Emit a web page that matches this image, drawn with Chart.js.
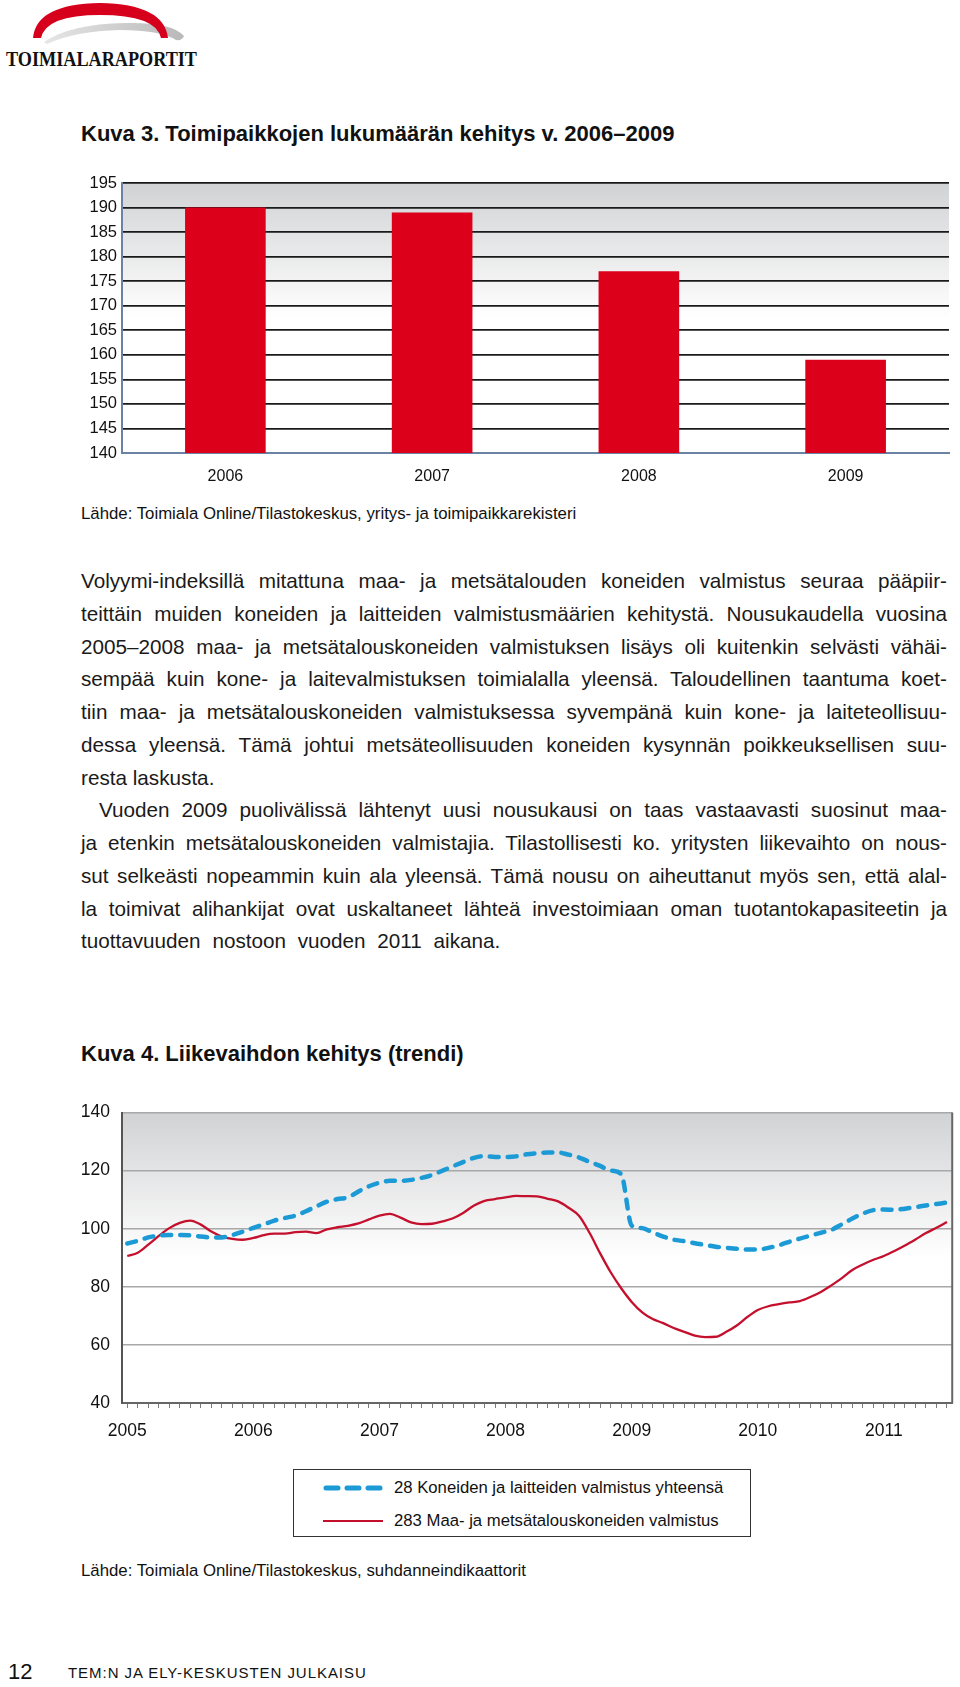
<!DOCTYPE html>
<html>
<head>
  <meta charset="UTF-8">
  <title>Kuva 3 ja Kuva 4</title>
  <script src="https://cdn.jsdelivr.net/npm/chart.js@4.4.0/dist/chart.umd.min.js"></script>
  <style>
    body { margin: 0; background: #fff; font-family: "Liberation Sans", Arial, sans-serif; color: #111; }
    #page { position: relative; width: 960px; height: 1687px; overflow: hidden; }
    .abs { position: absolute; white-space: nowrap; }
    .title { font-weight: bold; font-size: 22px; line-height: 26px; }
    .src { font-size: 16.8px; line-height: 20px; }
    #body-text { position: absolute; left: 81px; top: 565px; width: 866px; font-size: 20.7px; line-height: 32.77px; color: #1a1a1a; }
    #body-text div { text-align: justify; text-align-last: justify; white-space: nowrap; }
    #body-text div.last { text-align-last: left; }
    #body-text div.wide { word-spacing: 6px; }
    #body-text div.indent { padding-left: 18px; }
    #legend { position: absolute; left: 293px; top: 1469px; width: 456px; height: 66px; border: 1px solid #333; }
    #legend .row { position: absolute; left: 100px; font-size: 16.7px; line-height: 20px; white-space: nowrap; }
  </style>
</head>
<body>
<div id="page">
  <svg class="abs" style="left:0;top:0" width="200" height="72">
    <defs>
      <linearGradient id="grayArc" x1="0" x2="1" y1="0" y2="0">
        <stop offset="0" stop-color="#e6e6e6"/>
        <stop offset="1" stop-color="#b9b9b9"/>
      </linearGradient>
    </defs>
    <path d="M 44 42 Q 70 24 125 23 Q 172 22 184 36 Q 182 41 176 40 Q 160 30 120 30 Q 75 31 47 44 Z" fill="url(#grayArc)"/>
    <path d="M 33 38 Q 36 4 100 3 Q 164 4 168 38 L 161 38 Q 156 15 100 15 Q 46 15 41 38 Z" fill="#d6001c"/>
    <text x="6" y="66" font-family="Liberation Serif, DejaVu Serif, serif" font-weight="bold" font-size="21" textLength="191" lengthAdjust="spacingAndGlyphs" fill="#111">TOIMIALARAPORTIT</text>
  </svg>

  <div class="abs title" style="left:81px;top:121px">Kuva 3. Toimipaikkojen lukumäärän kehitys v. 2006–2009</div>
  <div class="abs" style="left:0;top:160px;width:960px;height:340px"><canvas id="barChart"></canvas></div>
  <div class="abs src" style="left:81px;top:504px">Lähde: Toimiala Online/Tilastokeskus, yritys- ja toimipaikkarekisteri</div>

  <div id="body-text">
    <div>Volyymi-indeksillä mitattuna maa- ja metsätalouden koneiden valmistus seuraa pääpiir-</div>
    <div>teittäin muiden koneiden ja laitteiden valmistusmäärien kehitystä. Nousukaudella vuosina</div>
    <div>2005–2008 maa- ja metsätalouskoneiden valmistuksen lisäys oli kuitenkin selvästi vähäi-</div>
    <div>sempää kuin kone- ja laitevalmistuksen toimialalla yleensä. Taloudellinen taantuma koet-</div>
    <div>tiin maa- ja metsätalouskoneiden valmistuksessa syvempänä kuin kone- ja laiteteollisuu-</div>
    <div>dessa yleensä. Tämä johtui metsäteollisuuden koneiden kysynnän poikkeuksellisen suu-</div>
    <div class="last">resta laskusta.</div>
    <div class="indent">Vuoden 2009 puolivälissä lähtenyt uusi nousukausi on taas vastaavasti suosinut maa-</div>
    <div>ja etenkin metsätalouskoneiden valmistajia. Tilastollisesti ko. yritysten liikevaihto on nous-</div>
    <div>sut selkeästi nopeammin kuin ala yleensä. Tämä nousu on aiheuttanut myös sen, että alal-</div>
    <div>la toimivat alihankijat ovat uskaltaneet lähteä investoimiaan oman tuotantokapasiteetin ja</div>
    <div class="last wide">tuottavuuden nostoon vuoden 2011 aikana.</div>
  </div>

  <div class="abs title" style="left:81px;top:1041px">Kuva 4. Liikevaihdon kehitys (trendi)</div>
  <div class="abs" style="left:0;top:1090px;width:960px;height:360px"><canvas id="lineChart"></canvas></div>

  <div id="legend">
    <svg class="abs" style="left:0;top:0" width="100" height="66">
      <line x1="32" y1="18" x2="86" y2="18" stroke="#1b9ad6" stroke-width="5" stroke-linecap="round" stroke-dasharray="12 9"/>
      <line x1="29" y1="51" x2="89" y2="51" stroke="#c40f2d" stroke-width="2"/>
    </svg>
    <div class="row" style="top:8px">28 Koneiden ja laitteiden valmistus yhteensä</div>
    <div class="row" style="top:41px">283 Maa- ja metsätalouskoneiden valmistus</div>
  </div>

  <div class="abs src" style="left:81px;top:1561px">Lähde: Toimiala Online/Tilastokeskus, suhdanneindikaattorit</div>

  <div class="abs" style="left:8px;top:1659px;font-size:22px;line-height:26px">12</div>
  <div class="abs" style="left:68px;top:1664px;font-size:15px;line-height:18px;letter-spacing:0.95px">TEM:N JA ELY-KESKUSTEN JULKAISU</div>
</div>

<script>
  // Kuva 3: toimipaikkojen lukumäärä
  var barYears = ['2006', '2007', '2008', '2009'];
  var barValues = [190, 189, 177, 159];

  // Kuva 4: liikevaihdon trendi, kuukausittain 1/2005 - 7/2011
  var trendYears = ['2005', '2006', '2007', '2008', '2009', '2010', '2011'];
  var machinesTotal = [
    94.9, 95.8, 97.0, 97.6, 97.8, 97.8, 97.7, 97.3, 97.0, 97.0, 97.8, 99.0,
    100.3, 101.5, 102.8, 103.7, 104.5, 106.0, 107.7, 109.3, 110.2, 110.8, 112.8, 114.6,
    115.8, 116.5, 116.5, 116.8, 117.5, 118.5, 120.0, 121.5, 123.0, 124.4, 125.0, 124.7,
    124.7, 124.9, 125.6, 126.0, 126.2, 126.2, 125.5, 124.5, 123.0, 121.6, 120.0, 118.8,
    101.1, 100.2, 98.7, 97.3, 96.2, 95.7, 95.0, 94.4, 93.8, 93.4, 93.1, 92.8,
    92.8, 93.4, 94.3, 95.5, 96.6, 97.6, 98.6, 99.6, 101.5, 103.5, 105.2, 106.4,
    106.6, 106.5, 106.9, 107.4, 108.0, 108.5, 109.0
  ];
  var agriForestry = [
    90.6, 91.7, 94.5, 97.5, 100.2, 102.0, 102.8, 101.4, 99.0, 97.3, 96.5, 96.2,
    96.8, 97.8, 98.3, 98.3, 98.8, 99.0, 98.5, 99.8, 100.5, 101.0, 101.8, 103.2,
    104.5, 105.1, 103.8, 102.2, 101.6, 101.7, 102.5, 103.6, 105.5, 108.0, 109.6, 110.2,
    110.8, 111.3, 111.2, 111.1, 110.3, 109.4, 107.2, 104.4, 98.5, 91.5, 85.0, 79.5,
    74.8, 71.2, 68.9, 67.5, 65.8, 64.5, 63.2, 62.7, 62.8, 64.5, 66.7, 69.6,
    72.0, 73.3, 74.0, 74.6, 75.1, 76.5, 78.2, 80.5, 83.0, 85.8, 87.7, 89.3,
    90.6, 92.3, 94.2, 96.3, 98.5, 100.3, 102.3
  ];
  var monthLabels = [];
  trendYears.forEach(function (y) {
    for (var m = 1; m <= 12; m++) monthLabels.push(y + '/' + m);
  });
  monthLabels = monthLabels.slice(0, machinesTotal.length);

  Chart.defaults.font.family = '"Liberation Sans", Arial, sans-serif';
  Chart.defaults.color = '#111';

  // harmaa liukuvärjäys piirtoalueen yläosaan
  function fadeBackground(fadeTo) {
    return {
      id: 'fadeBg',
      beforeDraw: function (chart) {
        var a = chart.chartArea, ctx = chart.ctx;
        var g = ctx.createLinearGradient(0, a.top, 0, a.top + (a.bottom - a.top) * fadeTo);
        g.addColorStop(0, '#d1d2d4');
        g.addColorStop(1, '#ffffff');
        ctx.save();
        ctx.fillStyle = g;
        ctx.fillRect(a.left, a.top, a.right - a.left, a.bottom - a.top);
        ctx.restore();
      }
    };
  }

  new Chart(document.getElementById('barChart'), {
    type: 'bar',
    data: {
      labels: barYears,
      datasets: [{
        data: barValues,
        backgroundColor: '#dc001b',
        barPercentage: 0.39,
        categoryPercentage: 1.0
      }]
    },
    options: {
      responsive: true,
      maintainAspectRatio: false,
      animation: false,
      layout: { padding: { top: 23, right: 11, left: 0, bottom: 0 } },
      plugins: { legend: { display: false }, tooltip: { enabled: false } },
      scales: {
        x: {
          afterFit: function (s) { s.height = 47; },
          grid: { display: false },
          border: { display: true, color: '#6a82a4', width: 2 },
          ticks: { font: { size: 16 }, padding: 6, color: '#111' }
        },
        y: {
          min: 140, max: 195,
          afterFit: function (s) { s.width = 122; },
          grid: {
            color: function (c) { return c.tick && c.tick.value === 140 ? 'rgba(0,0,0,0)' : '#1a1a1a'; },
            lineWidth: 1.7,
            drawTicks: false
          },
          border: { display: true, color: '#6a82a4', width: 2 },
          ticks: { stepSize: 5, font: { size: 16.5 }, padding: 5, color: '#111' }
        }
      }
    },
    plugins: [fadeBackground(0.5)]
  });

  new Chart(document.getElementById('lineChart'), {
    type: 'line',
    data: {
      labels: monthLabels,
      datasets: [{
        label: '28 Koneiden ja laitteiden valmistus yhteensä',
        data: machinesTotal,
        borderColor: '#1b9ad6',
        borderWidth: 4.5,
        borderDash: [9, 9],
        borderCapStyle: 'round',
        pointRadius: 0,
        cubicInterpolationMode: 'monotone'
      }, {
        label: '283 Maa- ja metsätalouskoneiden valmistus',
        data: agriForestry,
        borderColor: '#c40f2d',
        borderWidth: 2.3,
        pointRadius: 0,
        cubicInterpolationMode: 'monotone'
      }]
    },
    options: {
      responsive: true,
      maintainAspectRatio: false,
      animation: false,
      layout: { padding: { top: 20, right: 5, left: 0, bottom: 0 } },
      plugins: { legend: { display: false }, tooltip: { enabled: false } },
      scales: {
        x: {
          offset: true,
          afterFit: function (s) { s.height = 47; },
          grid: { drawOnChartArea: false, drawTicks: true, tickLength: 5, color: '#7a7a7a' },
          border: { display: true, color: '#666', width: 2 },
          ticks: {
            autoSkip: false, maxRotation: 0, minRotation: 0,
            font: { size: 17.5 }, padding: 13, color: '#111',
            callback: function (v, i) { return i % 12 === 0 ? trendYears[i / 12] : ''; }
          }
        },
        y: {
          min: 40, max: 140,
          afterFit: function (s) { s.width = 122; },
          grid: { color: '#a8a8a8', lineWidth: 1.5, drawTicks: false },
          border: { display: true, color: '#555', width: 2 },
          ticks: { stepSize: 20, font: { size: 17.5 }, padding: 12, color: '#111' }
        }
      }
    },
    plugins: [fadeBackground(0.5), {
      id: 'rightEdge',
      afterDraw: function (chart) {
        var a = chart.chartArea, ctx = chart.ctx;
        ctx.save();
        ctx.strokeStyle = '#666';
        ctx.lineWidth = 2;
        ctx.beginPath();
        ctx.moveTo(a.right, a.top);
        ctx.lineTo(a.right, a.bottom);
        ctx.stroke();
        ctx.restore();
      }
    }]
  });
</script>
</body>
</html>
